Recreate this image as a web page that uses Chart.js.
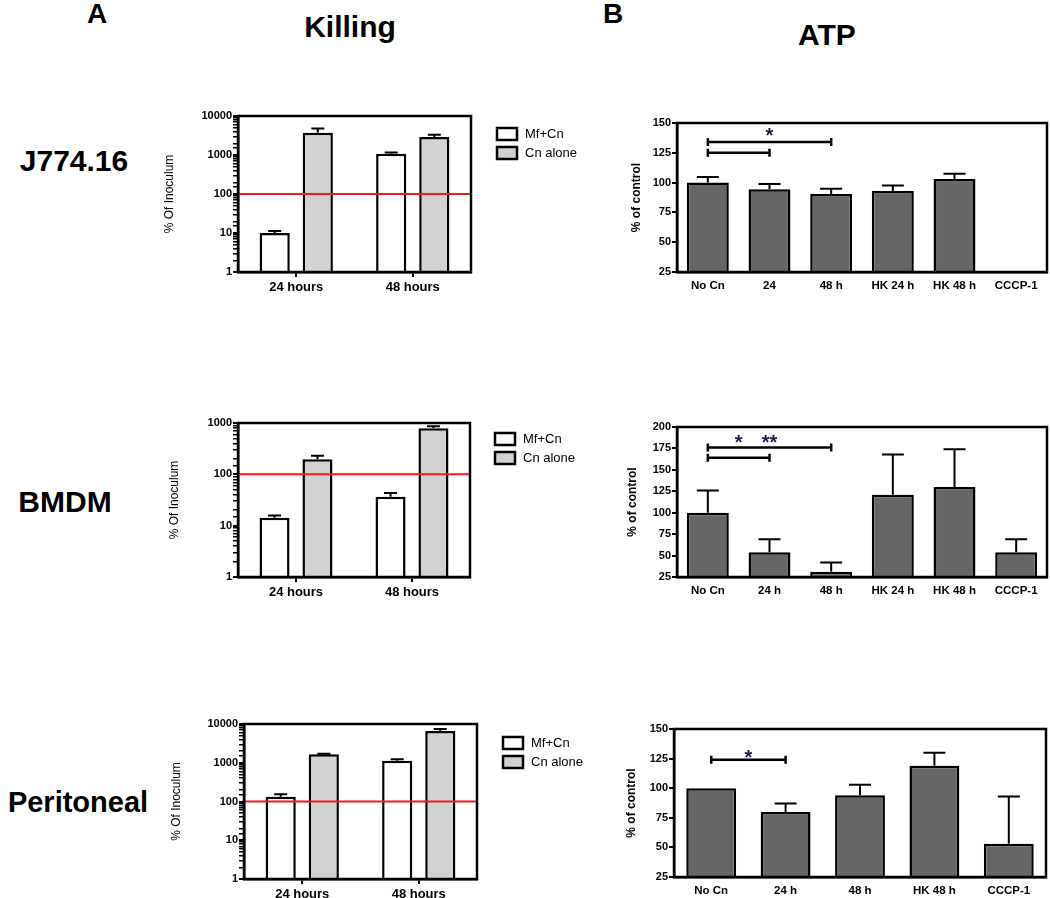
<!DOCTYPE html>
<html>
<head>
<meta charset="utf-8">
<script src="https://cdn.jsdelivr.net/npm/chart.js@4.4.0/dist/chart.umd.min.js"></script>
<style>
    body { margin: 0; background: #fff; width: 1050px; height: 898px; position: relative; overflow: hidden;
           font-family: "Liberation Sans", Arial, sans-serif; }
    .lbl { position: absolute; font-weight: bold; color: #000; transform: translate(-50%, -50%);
           white-space: nowrap; line-height: 1; }
    .box { position: absolute; }
</style>
</head>
<body>
<div class="lbl" style="left:97px;top:14px;font-size:28px">A</div>
<div class="lbl" style="left:350px;top:27px;font-size:30px">Killing</div>
<div class="lbl" style="left:613px;top:14px;font-size:28px">B</div>
<div class="lbl" style="left:827px;top:35px;font-size:30px">ATP</div>
<div class="lbl" style="left:74px;top:161px;font-size:30px">J774.16</div>
<div class="lbl" style="left:65px;top:502px;font-size:30px">BMDM</div>
<div class="lbl" style="left:78px;top:802px;font-size:29px">Peritoneal</div>

<div class="box" style="left:150px;top:100px;width:450px;height:200px"><canvas id="killJ774"></canvas></div>
<div class="box" style="left:150px;top:400px;width:450px;height:210px"><canvas id="killBmdm"></canvas></div>
<div class="box" style="left:150px;top:700px;width:450px;height:198px"><canvas id="killPerit"></canvas></div>
<div class="box" style="left:600px;top:100px;width:450px;height:200px"><canvas id="atpJ774"></canvas></div>
<div class="box" style="left:600px;top:400px;width:450px;height:210px"><canvas id="atpBmdm"></canvas></div>
<div class="box" style="left:600px;top:700px;width:450px;height:198px"><canvas id="atpPerit"></canvas></div>

<script>
// Killing (% of inoculum, log scale)
const killLabels = ['24 hours', '48 hours'];
const legendNames = ['Mf+Cn', 'Cn alone'];

const j774Mf = [10, 1070];
const j774MfErr = [1.3, 90];
const j774Cn = [3700, 2900];
const j774CnErr = [1100, 400];

const bmdmMf = [14.3, 36.7];
const bmdmMfErr = [1.5, 6.5];
const bmdmCn = [196, 790];
const bmdmCnErr = [34, 75];

const peritMf = [133, 1130];
const peritMfErr = [20, 100];
const peritCn = [1650, 6600];
const peritCnErr = [60, 800];

// ATP (% of control)
const atpJ774Labels = ['No Cn', '24', '48 h', 'HK 24 h', 'HK 48 h', 'CCCP-1'];
const atpJ774 = [100, 94.5, 90.5, 93, 103, null];
const atpJ774Err = [4.7, 4.3, 4.4, 4.6, 4.5, 0];

const atpBmdmLabels = ['No Cn', '24 h', '48 h', 'HK 24 h', 'HK 48 h', 'CCCP-1'];
const atpBmdm = [100, 54, 31, 121, 130, 54];
const atpBmdmErr = [26, 15, 11, 47, 44, 15];

const atpPeritLabels = ['No Cn', '24 h', '48 h', 'HK 48 h', 'CCCP-1'];
const atpPerit = [100, 80, 94, 119, 53];
const atpPeritErr = [0, 7, 9, 11, 40];

// significance brackets: category index from/to, y value; stars at category position
const j774Brackets = [{ from: 0, to: 2, y: 134 }, { from: 0, to: 1, y: 125 }];
const j774Stars = [{ at: 1, y: 143, text: '*' }];
const bmdmBrackets = [{ from: 0, to: 2, y: 176 }, { from: 0, to: 1, y: 164 }];
const bmdmStars = [{ at: 0.5, y: 187, text: '*' }, { at: 1, y: 187, text: '**' }];
const peritBrackets = [{ from: 0, to: 1, y: 124 }];
const peritStars = [{ at: 0.5, y: 130, text: '*' }];

const FONT = '"Liberation Sans", Arial, sans-serif';
Chart.defaults.font.family = FONT;
Chart.defaults.color = '#000';
Chart.defaults.animation = false;

// caja completa alrededor del área del gráfico
const framePlugin = {
    id: 'frame',
    afterDraw(chart) {
        const { ctx, chartArea: a } = chart;
        ctx.save();
        ctx.strokeStyle = '#000';
        ctx.lineWidth = 2.5;
        ctx.strokeRect(a.left, a.top, a.right - a.left, a.bottom - a.top);
        ctx.restore();
    }
};

function errorBarPlugin(cap) {
    return {
        id: 'errorBars',
        afterDatasetsDraw(chart) {
            const ctx = chart.ctx;
            const y = chart.scales.y;
            ctx.save();
            ctx.strokeStyle = '#000';
            ctx.lineWidth = 2;
            chart.data.datasets.forEach((ds, i) => {
                const meta = chart.getDatasetMeta(i);
                meta.data.forEach((bar, j) => {
                    const v = ds.data[j];
                    const e = ds.errors ? ds.errors[j] : 0;
                    if (v == null || !e) return;
                    const top = y.getPixelForValue(v + e);
                    ctx.beginPath();
                    ctx.moveTo(bar.x, bar.y);
                    ctx.lineTo(bar.x, top);
                    ctx.moveTo(bar.x - cap / 2, top);
                    ctx.lineTo(bar.x + cap / 2, top);
                    ctx.stroke();
                });
            });
            ctx.restore();
        }
    };
}

// línea roja en 100 %
const refLinePlugin = {
    id: 'refLine',
    afterDatasetsDraw(chart) {
        const { ctx, chartArea: a } = chart;
        const py = chart.scales.y.getPixelForValue(100);
        ctx.save();
        ctx.strokeStyle = '#ee1c1c';
        ctx.lineWidth = 2;
        ctx.beginPath();
        ctx.moveTo(a.left, py);
        ctx.lineTo(a.right, py);
        ctx.stroke();
        ctx.restore();
    }
};

function legendPlugin(dx, dy) {
    return {
        id: 'boxLegend',
        afterDraw(chart) {
            const { ctx, chartArea: a } = chart;
            ctx.save();
            chart.data.datasets.forEach((ds, i) => {
                const x = a.right + dx;
                const y = a.top + dy + i * 19;
                ctx.fillStyle = ds.backgroundColor;
                ctx.fillRect(x, y, 20, 12);
                ctx.strokeStyle = '#000';
                ctx.lineWidth = 2.5;
                ctx.strokeRect(x, y, 20, 12);
                ctx.fillStyle = '#000';
                ctx.font = '13px ' + FONT;
                ctx.textBaseline = 'middle';
                ctx.fillText(ds.label, x + 28, y + 6.5);
            });
            ctx.restore();
        }
    };
}

function sigPlugin(brackets, stars) {
    return {
        id: 'sig',
        afterDraw(chart) {
            const { ctx } = chart;
            const xs = chart.scales.x, ys = chart.scales.y;
            const px = at => {
                const i = Math.floor(at), f = at - i;
                const p0 = xs.getPixelForValue(i);
                return f ? p0 + f * (xs.getPixelForValue(i + 1) - p0) : p0;
            };
            ctx.save();
            ctx.strokeStyle = '#000';
            ctx.lineWidth = 2.5;
            brackets.forEach(b => {
                const x1 = px(b.from), x2 = px(b.to), y = ys.getPixelForValue(b.y);
                ctx.beginPath();
                ctx.moveTo(x1, y); ctx.lineTo(x2, y);
                ctx.moveTo(x1, y - 4); ctx.lineTo(x1, y + 4);
                ctx.moveTo(x2, y - 4); ctx.lineTo(x2, y + 4);
                ctx.stroke();
            });
            ctx.fillStyle = '#1d1d3f';
            ctx.font = 'bold 20px ' + FONT;
            ctx.textAlign = 'center';
            ctx.textBaseline = 'alphabetic';
            stars.forEach(s => {
                ctx.fillText(s.text, px(s.at), ys.getPixelForValue(s.y) + 11);
            });
            ctx.restore();
        }
    };
}

function isDecade(v) {
    const l = Math.log10(v);
    return Math.abs(l - Math.round(l)) < 1e-9;
}

function makeKillChart(id, mf, mfErr, cn, cnErr, max, g) {
    new Chart(document.getElementById(id), {
        type: 'bar',
        data: {
            labels: killLabels,
            datasets: [
                { label: legendNames[0], data: mf, errors: mfErr, backgroundColor: '#ffffff',
                  borderColor: '#000', borderWidth: 2.5, categoryPercentage: 0.74, barPercentage: 0.7 },
                { label: legendNames[1], data: cn, errors: cnErr, backgroundColor: '#d2d2d2',
                  borderColor: '#000', borderWidth: 2.5, categoryPercentage: 0.74, barPercentage: 0.7 }
            ]
        },
        options: {
            responsive: true,
            maintainAspectRatio: false,
            devicePixelRatio: 1,
            layout: { padding: { top: g.top, right: g.right, left: 0, bottom: 0 } },
            plugins: { legend: { display: false }, tooltip: { enabled: false } },
            scales: {
                x: {
                    grid: { display: true, drawOnChartArea: false, offset: false, tickLength: 5, color: '#000', lineWidth: 2 },
                    border: { display: true, color: '#000', width: 2.5 },
                    ticks: { font: { size: 13, weight: 'bold' }, padding: 3 },
                    afterFit(s) { s.height = g.xh; }
                },
                y: {
                    type: 'logarithmic',
                    min: 1,
                    max: max,
                    grid: {
                        display: true, drawOnChartArea: false, tickLength: 5, color: '#000',
                        lineWidth: c => (c.tick && isDecade(c.tick.value)) ? 2 : 1.5
                    },
                    border: { display: true, color: '#000', width: 2.5 },
                    ticks: {
                        autoSkip: false,
                        padding: 1,
                        font: { size: 11, weight: 'bold' },
                        callback: v => isDecade(v) ? String(v) : ''
                    },
                    title: { display: true, text: '% Of Inoculum', font: { size: 12 }, padding: { top: g.tp, bottom: 0 } },
                    afterFit(s) { s.width = g.yw; }
                }
            }
        },
        plugins: [errorBarPlugin(13), refLinePlugin, framePlugin, legendPlugin(g.lx, g.ly)]
    });
}

function makeAtpChart(id, labels, values, errs, max, brackets, stars, g) {
    new Chart(document.getElementById(id), {
        type: 'bar',
        data: {
            labels: labels,
            datasets: [
                { label: 'ATP', data: values, errors: errs, backgroundColor: '#666666',
                  borderColor: '#000', borderWidth: 2.5, categoryPercentage: 1, barPercentage: g.bp }
            ]
        },
        options: {
            responsive: true,
            maintainAspectRatio: false,
            devicePixelRatio: 1,
            layout: { padding: { top: g.top, right: g.right, left: 0, bottom: 0 } },
            plugins: { legend: { display: false }, tooltip: { enabled: false } },
            scales: {
                x: {
                    grid: { display: true, drawOnChartArea: false, drawTicks: false },
                    border: { display: true, color: '#000', width: 2.5 },
                    ticks: { font: { size: 11.5, weight: 'bold' }, padding: 7 },
                    afterFit(s) { s.height = g.xh; }
                },
                y: {
                    min: 25,
                    max: max,
                    grid: { display: true, drawOnChartArea: false, tickLength: 5, color: '#000', lineWidth: 2 },
                    border: { display: true, color: '#000', width: 2.5 },
                    ticks: { stepSize: 25, padding: 1, font: { size: 11, weight: 'bold' } },
                    title: { display: true, text: '% of control', font: { size: 12, weight: 'bold' }, padding: { top: g.tp, bottom: 0 } },
                    afterFit(s) { s.width = g.yw; }
                }
            }
        },
        plugins: [errorBarPlugin(22), framePlugin, sigPlugin(brackets, stars)]
    });
}

document.addEventListener('DOMContentLoaded', function() {
    makeKillChart('killJ774', j774Mf, j774MfErr, j774Cn, j774CnErr, 10000,
        { top: 16, right: 129, xh: 28, yw: 88, tp: 12.8, lx: 26, ly: 12 });
    makeKillChart('killBmdm', bmdmMf, bmdmMfErr, bmdmCn, bmdmCnErr, 1000,
        { top: 23, right: 130, xh: 33, yw: 88, tp: 17.8, lx: 25, ly: 10 });
    makeKillChart('killPerit', peritMf, peritMfErr, peritCn, peritCnErr, 10000,
        { top: 24, right: 123, xh: 19, yw: 94, tp: 19.8, lx: 26, ly: 13 });

    makeAtpChart('atpJ774', atpJ774Labels, atpJ774, atpJ774Err, 150, j774Brackets, j774Stars,
        { top: 23, right: 3, xh: 28, yw: 77, tp: 29.8, bp: 0.68 });
    makeAtpChart('atpBmdm', atpBmdmLabels, atpBmdm, atpBmdmErr, 200, bmdmBrackets, bmdmStars,
        { top: 27, right: 3, xh: 33, yw: 77, tp: 25.8, bp: 0.68 });
    makeAtpChart('atpPerit', atpPeritLabels, atpPerit, atpPeritErr, 150, peritBrackets, peritStars,
        { top: 29, right: 4, xh: 21, yw: 74, tp: 24.8, bp: 0.67 });
});
</script>
</body>
</html>
